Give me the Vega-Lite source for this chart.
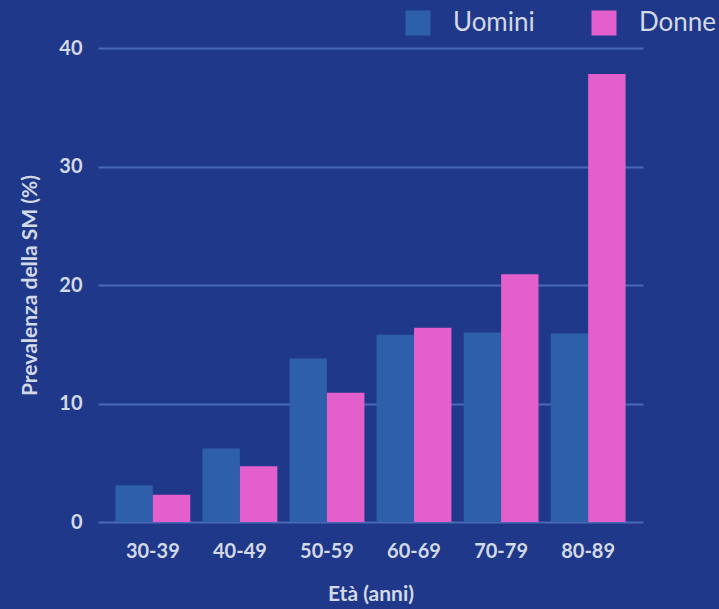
{
  "$schema": "https://vega.github.io/schema/vega-lite/v6.json",
  "autosize": "none",
  "width": 545,
  "height": 474,
  "padding": {"left": 98, "top": 48, "right": 76, "bottom": 87},
  "background": "#1f3889",
  "config": {
    "view": {"stroke": null},
    "font": "Lato",
    "axis": {
      "labelColor": "#d3d9e6",
      "titleColor": "#d3d9e6",
      "labelFont": "Lato",
      "titleFont": "Lato",
      "domain": false,
      "ticks": false
    }
  },
  "data": {
    "values": [
      {"eta": "30-39", "sesso": "Uomini", "prevalenza": 3.1},
      {"eta": "30-39", "sesso": "Donne", "prevalenza": 2.3},
      {"eta": "40-49", "sesso": "Uomini", "prevalenza": 6.2},
      {"eta": "40-49", "sesso": "Donne", "prevalenza": 4.7},
      {"eta": "50-59", "sesso": "Uomini", "prevalenza": 13.8},
      {"eta": "50-59", "sesso": "Donne", "prevalenza": 10.9},
      {"eta": "60-69", "sesso": "Uomini", "prevalenza": 15.8},
      {"eta": "60-69", "sesso": "Donne", "prevalenza": 16.4},
      {"eta": "70-79", "sesso": "Uomini", "prevalenza": 16.0},
      {"eta": "70-79", "sesso": "Donne", "prevalenza": 20.9},
      {"eta": "80-89", "sesso": "Uomini", "prevalenza": 15.9},
      {"eta": "80-89", "sesso": "Donne", "prevalenza": 37.8}
    ]
  },
  "mark": {"type": "bar"},
  "encoding": {
    "x": {
      "field": "eta",
      "type": "nominal",
      "sort": null,
      "scale": {"paddingInner": 0.14, "paddingOuter": 0.2},
      "axis": {
        "title": "Età (anni)",
        "labelAngle": 0,
        "labelFontSize": 20,
        "labelFontWeight": "bold",
        "labelPadding": 19,
        "titleFontSize": 21,
        "titleFontWeight": "bold",
        "titlePadding": 22,
        "grid": false
      }
    },
    "xOffset": {
      "field": "sesso",
      "type": "nominal",
      "sort": ["Uomini", "Donne"]
    },
    "y": {
      "field": "prevalenza",
      "type": "quantitative",
      "scale": {"domain": [0, 40]},
      "axis": {
        "title": "Prevalenza della SM (%)",
        "values": [0, 10, 20, 30, 40],
        "labelFontSize": 20,
        "labelFontWeight": "bold",
        "labelPadding": 16,
        "titleFontSize": 21,
        "titleFontWeight": "bold",
        "titlePadding": 18,
        "grid": true,
        "gridColor": "#5577c4",
        "gridWidth": 2,
        "gridOpacity": 0.8
      }
    },
    "color": {
      "field": "sesso",
      "type": "nominal",
      "sort": ["Uomini", "Donne"],
      "scale": {"domain": ["Uomini", "Donne"], "range": ["#2d5fab", "#e35fcb"]},
      "legend": {
        "title": null,
        "orient": "none",
        "direction": "horizontal",
        "legendX": 307,
        "legendY": -38,
        "padding": 0,
        "symbolType": "square",
        "symbolSize": 625,
        "symbolStrokeWidth": 0,
        "symbolOpacity": 1,
        "labelFontSize": 26,
        "labelColor": "#d3d9e6",
        "labelOffset": 22,
        "columnPadding": 56
      }
    }
  }
}
